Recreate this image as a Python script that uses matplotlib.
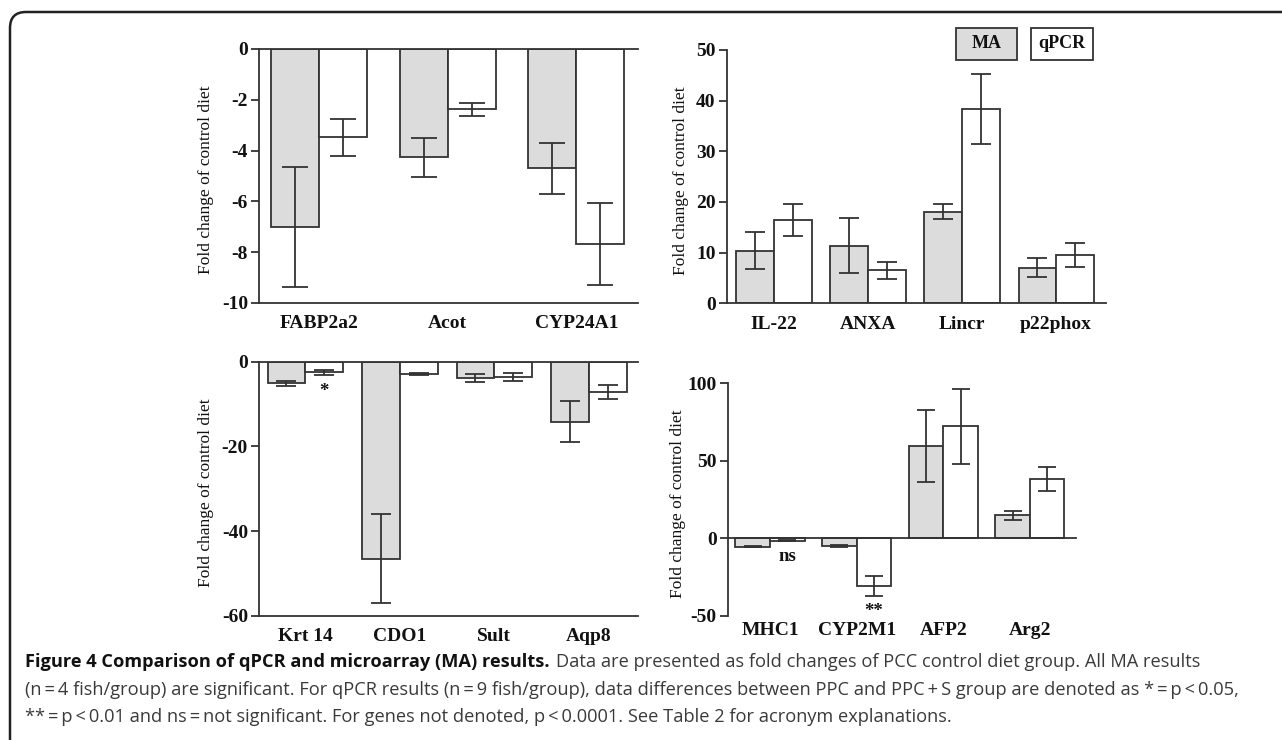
import matplotlib
matplotlib.use("Agg")
import matplotlib.pyplot as plt
import numpy as np
from matplotlib.patches import FancyBboxPatch, Rectangle
from matplotlib.transforms import IdentityTransform

# --- data (fold change of control diet) ---
genes_tl = ["FABP2a2", "Acot", "CYP24A1"]
ma_tl = [-7.0, -4.27, -4.69]
ma_err_tl = [2.37, 0.78, 1.0]
qpcr_tl = [-3.48, -2.37, -7.68]
qpcr_err_tl = [0.72, 0.26, 1.62]

genes_tr = ["IL-22", "ANXA", "Lincr", "p22phox"]
ma_tr = [10.4, 11.4, 18.1, 7.0]
ma_err_tr = [3.65, 5.45, 1.45, 1.9]
qpcr_tr = [16.4, 6.5, 38.4, 9.6]
qpcr_err_tr = [3.15, 1.65, 6.9, 2.4]

genes_bl = ["Krt 14", "CDO1", "Sult", "Aqp8"]
ma_bl = [-5.1, -46.5, -3.9, -14.2]
ma_err_bl = [0.6, 10.5, 0.95, 4.85]
qpcr_bl = [-2.5, -2.9, -3.6, -7.2]
qpcr_err_bl = [0.55, 0.2, 0.9, 1.7]
signif_bl = ["*", "", "", ""]

genes_br = ["MHC1", "CYP2M1", "AFP2", "Arg2"]
ma_br = [-5.4, -5.0, 59.5, 14.8]
ma_err_br = [0.3, 0.5, 23.0, 2.8]
qpcr_br = [-1.5, -30.6, 72.3, 38.3]
qpcr_err_br = [0.3, 6.5, 24.0, 8.0]
signif_br = ["ns", "**", "", ""]

caption_bold = "Figure 4 Comparison of qPCR and microarray (MA) results."
caption_1 = "Data are presented as fold changes of PCC control diet group. All MA results"
caption_2 = ("(n\u2009=\u20094 fish/group) are significant. For qPCR results (n\u2009=\u20099 fish/group), "
             "data differences between PPC and PPC\u2009+\u2009S group are denoted as *\u2009=\u2009p\u2009<\u20090.05,")
caption_3 = ("**\u2009=\u2009p\u2009<\u20090.01 and ns\u2009=\u2009not significant. For genes not denoted, "
             "p\u2009<\u20090.0001. See Table 2 for acronym explanations.")

W, H = 1282, 740
GRAY = "#dcdcdc"
EDGE = "#333333"
SERIF = "Liberation Serif"
plt.rcParams["axes.unicode_minus"] = False

fig = plt.figure(figsize=(W / 100, H / 100), dpi=100)


def panel(box, genes, ma, ma_err, qpcr, qpcr_err, ylim, yticks, xlim, width, cap,
          xpad, bottom_spine, zero_line, ylab_x, signif=None, sig_off=-12):
    l, r, t, b = box
    ax = fig.add_axes([l / W, 1 - b / H, (r - l) / W, (b - t) / H])
    x = np.arange(len(genes))
    ax.bar(x - width / 2, ma, width, color=GRAY, edgecolor=EDGE, linewidth=1.3, zorder=2)
    ax.bar(x + width / 2, qpcr, width, color="white", edgecolor=EDGE, linewidth=1.3, zorder=2)
    ax.errorbar(x - width / 2, ma, yerr=ma_err, fmt="none", ecolor=EDGE, elinewidth=1.3,
                capsize=cap, capthick=1.3, zorder=3)
    ax.errorbar(x + width / 2, qpcr, yerr=qpcr_err, fmt="none", ecolor=EDGE, elinewidth=1.3,
                capsize=cap, capthick=1.3, zorder=3)
    if zero_line:
        ax.axhline(0, color=EDGE, lw=1.3, zorder=4, clip_on=False)
    ax.set_ylim(ylim)
    ax.set_xlim(xlim)
    ax.set_yticks(yticks)
    ax.set_xticks(x)
    ax.set_xticklabels(genes)
    for s in ["top", "right"]:
        ax.spines[s].set_visible(False)
    ax.spines["bottom"].set_visible(bottom_spine)
    for s in ["left", "bottom"]:
        ax.spines[s].set_color(EDGE)
        ax.spines[s].set_linewidth(1.3)
    ax.tick_params(axis="x", length=0, pad=xpad)
    ax.tick_params(axis="y", length=6, width=1.3, pad=2, color=EDGE)
    for lab in ax.get_xticklabels() + ax.get_yticklabels():
        lab.set_fontfamily(SERIF)
        lab.set_fontweight("bold")
        lab.set_fontsize(14)
        lab.set_color("#111111")
    fig.text(ylab_x / W, 1 - (t + b) / 2 / H - 4 / H, "Fold change of control diet",
             rotation=90, ha="center", va="center", family=SERIF, fontsize=12.5,
             color="#111111")
    if signif:
        for i, s in enumerate(signif):
            if s:
                ax.annotate(s, (x[i] + width / 2, qpcr[i] - qpcr_err[i]),
                            xytext=(0, sig_off), textcoords="offset points",
                            ha="center", va="center", family=SERIF,
                            fontweight="bold", fontsize=13.5, color="#111111")
    return ax


panel((259, 638, 49, 303), genes_tl, ma_tl, ma_err_tl, qpcr_tl, qpcr_err_tl,
      (-10, 0), [0, -2, -4, -6, -8, -10], (-0.467, 2.48), 0.373, 9.5, 9,
      True, True, 206)
panel((726.7, 1106, 50, 303.3), genes_tr, ma_tr, ma_err_tr, qpcr_tr, qpcr_err_tr,
      (0, 50), [0, 10, 20, 30, 40, 50], (-0.503, 3.53), 0.40, 7, 9,
      True, False, 681)
panel((259, 638, 361.6, 615.7), genes_bl, ma_bl, ma_err_bl, qpcr_bl, qpcr_err_bl,
      (-60, 0), [0, -20, -40, -60], (-0.49, 3.52), 0.40, 7, 9,
      True, True, 206, signif_bl, -12)
panel((727.7, 1075.7, 383.3, 616), genes_br, ma_br, ma_err_br, qpcr_br, qpcr_err_br,
      (-50, 100), [-50, 0, 50, 100], (-0.49, 3.53), 0.40, 6.5, 4,
      False, True, 678, signif_br, -11)

# legend boxes
for (x0, x1), label, fc in [((956, 1017), "MA", GRAY), ((1031, 1093), "qPCR", "white")]:
    fig.patches.append(Rectangle((x0 / W, 1 - 60 / H), (x1 - x0) / W, 32 / H,
                                 transform=fig.transFigure, facecolor=fc,
                                 edgecolor=EDGE, linewidth=1.3))
    fig.text((x0 + x1) / 2 / W, 1 - 44 / H, label, ha="center", va="center",
             family=SERIF, fontweight="bold", fontsize=13, color="#111111")

# outer frame with rounded corner
fig.patches.append(FancyBboxPatch((10, -60), 1400, H - 12 + 60,
                                  boxstyle="round,pad=0,rounding_size=16",
                                  transform=IdentityTransform(), facecolor="none",
                                  edgecolor="#222222", linewidth=1.8))

# caption
renderer = fig.canvas.get_renderer()
cap_font = "Open Sans"
probe = fig.text(0, 0, caption_2, family=cap_font, fontsize=12)
size = 12 * 1212 / probe.get_window_extent(renderer).width
probe.remove()

tb = fig.text(25 / W, 1 - 662 / H, caption_bold, family=cap_font, fontweight="bold",
              fontsize=size, color="#111111", va="center")
bw = tb.get_window_extent(renderer).width
fig.text((25 + bw + 6) / W, 1 - 662 / H, caption_1, family=cap_font,
         fontsize=size, color="#3a3a3a", va="center")
fig.text(25 / W, 1 - 690 / H, caption_2, family=cap_font, fontsize=size,
         color="#3a3a3a", va="center")
fig.text(25 / W, 1 - 717 / H, caption_3, family=cap_font, fontsize=size,
         color="#3a3a3a", va="center")

fig.savefig("out.png", dpi=100)
